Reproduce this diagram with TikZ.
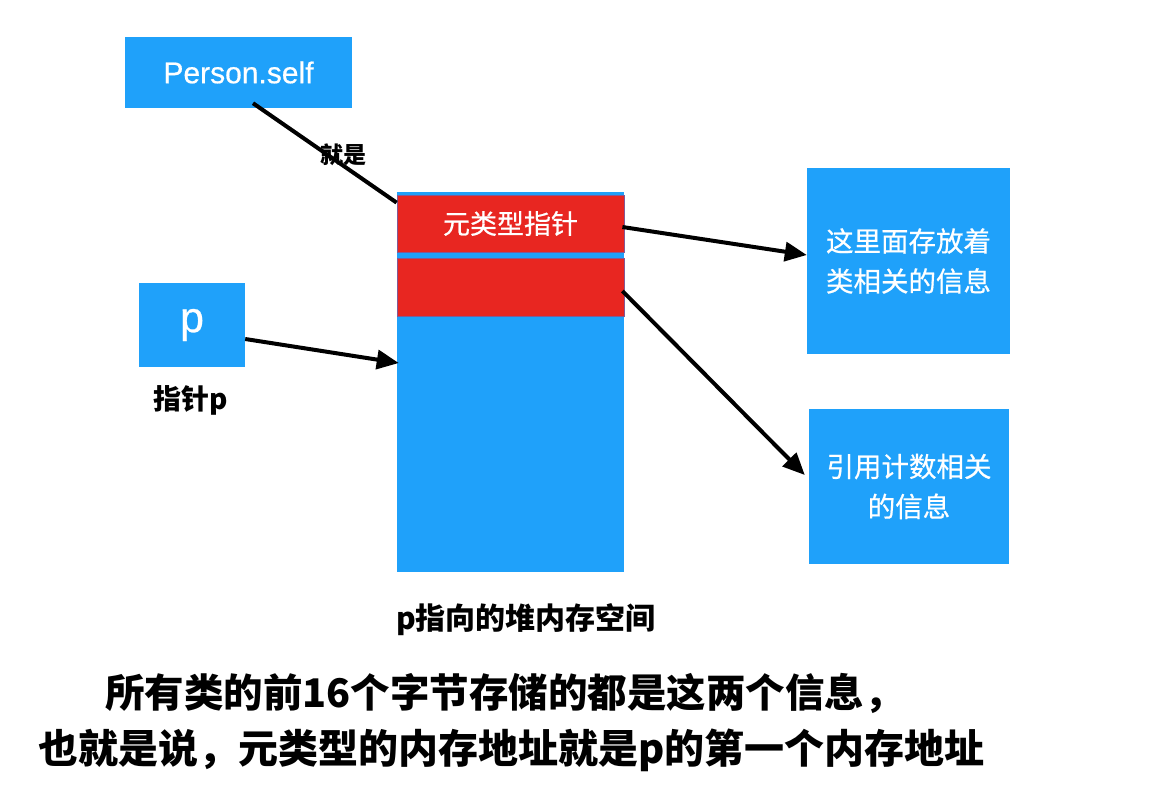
\documentclass[tikz,border=0pt]{standalone}
\usepackage{fontspec}
\setmainfont{Noto Sans CJK SC}
\newfontfamily\med[FakeBold=0.6]{Noto Sans CJK SC}
\newfontfamily\lat[FakeBold=0.6]{Liberation Sans}
\usetikzlibrary{arrows.meta}
\definecolor{cblue}{RGB}{31,161,250}
\definecolor{cred}{RGB}{232,38,33}
\definecolor{cedge}{RGB}{130,90,150}
\tikzset{
  bluebox/.style={fill=cblue, draw=none, inner sep=0pt, text=white, align=center},
  redbox/.style={fill=cred, draw=cedge, line width=0.8pt, inner sep=0pt, text=white, align=center},
  conn/.style={line width=4pt, draw=black},
  arr/.style={conn, -{Triangle[length=22pt,width=19pt]}},
  lbl/.style={inner sep=0pt, text=black, font=\bfseries},
}
\begin{document}
\begin{tikzpicture}[x=1pt,y=-1pt]
\useasboundingbox[fill=white] (0,0) rectangle (1176,790);
% nodes
\node[bluebox, minimum width=227pt, minimum height=71pt, font=\lat\fontsize{30}{34}\selectfont] (person) at (238.5,72.5) {Person.self};
\node[bluebox, minimum width=227pt, minimum height=380pt] (col) at (510.5,382) {};
\node[redbox, minimum width=227pt, minimum height=57pt, font=\med\fontsize{27}{32}\selectfont] (red1) at (510.5,223.5) {元类型指针};
\node[redbox, minimum width=227pt, minimum height=58pt] (red2) at (510.5,287) {};
\node[bluebox, minimum width=203pt, minimum height=186pt, font=\med\fontsize{27.5}{40}\selectfont] (box1) at (908.5,261) {这里面存放着\\类相关的信息};
\node[bluebox, minimum width=200pt, minimum height=155pt, font=\med\fontsize{27.5}{40}\selectfont] (box2) at (909,486.5) {引用计数相关\\的信息};
\node[bluebox, minimum width=106pt, minimum height=84pt, font=\lat\fontsize{43}{48}\selectfont] (p) at (192,325) {p};
% labels
\node[lbl, font=\bfseries\fontsize{28}{32}\selectfont] (lp) at (191,400) {指针p};
\node[lbl, font=\bfseries\fontsize{30}{34}\selectfont] (lheap) at (526,620) {p指向的堆内存空间};
\node[lbl, anchor=west, font=\bfseries\fontsize{39.5}{44}\selectfont] (line1) at (105,693) {所有类的前16个字节存储的都是这两个信息，};
\node[lbl, anchor=west, font=\bfseries\fontsize{40}{46}\selectfont] (line2) at (38,750) {也就是说，元类型的内存地址就是p的第一个内存地址};
% connectors
\draw[conn] ([xshift=14.5pt,yshift=5pt]person.south) -- ([yshift=-8pt]red1.north west);
\node[lbl, font=\bfseries\fontsize{23}{26}\selectfont] (jiushi) at (343,155) {就是};
\draw[arr] ([xshift=-2pt,yshift=-3.5pt]red1.east) -- ([yshift=6pt]box1.west);
\draw[arr] ([xshift=-2pt,yshift=-4pt]red2.east) -- ([xshift=-4pt,yshift=11.5pt]box2.west);
\draw[arr] ([yshift=-14pt]p.east) -- ([xshift=2pt,yshift=19pt]col.west);
\end{tikzpicture}
\end{document}
